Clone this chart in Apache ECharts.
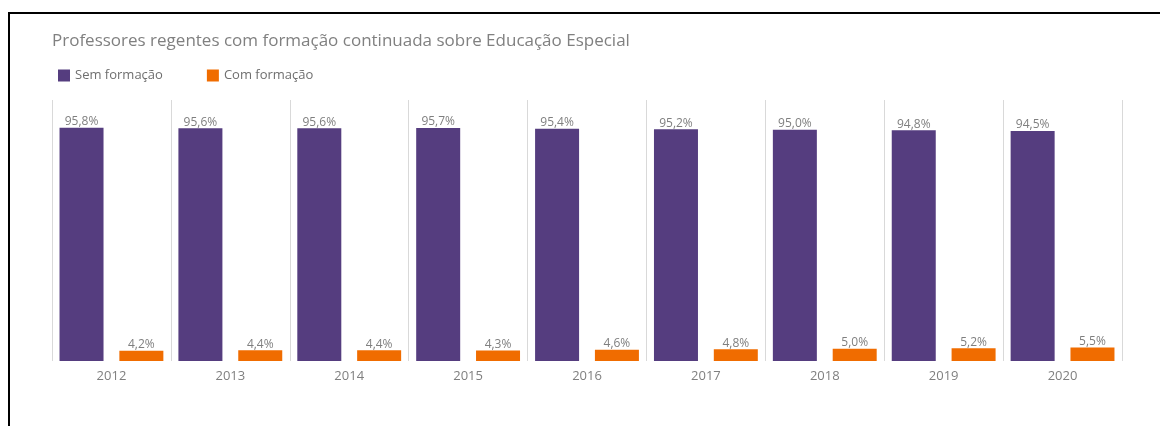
<!DOCTYPE html>
<html>
<head>
<meta charset="utf-8">
<script src="https://cdn.jsdelivr.net/npm/echarts@6/dist/echarts.min.js"></script>
<style>
html,body{margin:0;padding:0;background:#fff;}
#chart{width:1160px;height:426px;}
</style>
</head>
<body>
<div id="chart"></div>
<script>
const titleText = 'Professores regentes com formação continuada sobre Educação Especial';
const categories = ['2012','2013','2014','2015','2016','2017','2018','2019','2020'];
const seriesNames = ['Sem formação','Com formação'];
const semFormacao = [95.8, 95.6, 95.6, 95.7, 95.4, 95.2, 95.0, 94.8, 94.5];
const comFormacao = [4.2, 4.4, 4.4, 4.3, 4.6, 4.8, 5.0, 5.2, 5.5];

const font = '"Open Sans", "Noto Sans", sans-serif';
const gray = '#7f7f7f';
const fmt = p => p.value.toFixed(1).replace('.', ',') + '%';

const chart = echarts.init(document.getElementById('chart'));
chart.setOption({
  animation: false,
  backgroundColor: '#fff',
  title: {
    text: titleText,
    left: 47, top: 28,
    textStyle: {fontFamily: font, fontSize: 17, fontWeight: 'normal', color: '#808080'}
  },
  legend: {
    left: 53, top: 64,
    itemWidth: 12, itemHeight: 12, itemGap: 44,
    icon: 'rect',
    textStyle: {fontFamily: font, fontSize: 13, color: '#6f6f6f'},
    data: seriesNames
  },
  graphic: [
    {type: 'rect', shape: {x: 8, y: 12, width: 1152, height: 2}, style: {fill: '#000'}},
    {type: 'rect', shape: {x: 8, y: 12, width: 2, height: 414}, style: {fill: '#000'}}
  ],
  grid: {left: 52, right: 38, top: 100, bottom: 65},
  xAxis: {
    type: 'category',
    data: categories,
    axisLine: {show: false},
    axisTick: {show: false},
    splitLine: {show: true, lineStyle: {color: '#d9d9d9', width: 1}},
    axisLabel: {fontFamily: font, fontSize: 13, color: gray, margin: 9}
  },
  yAxis: {
    type: 'value', min: 0, max: 107.2,
    show: false, splitLine: {show: false}
  },
  series: [
    {
      name: seriesNames[0], type: 'bar', data: semFormacao,
      itemStyle: {color: '#553d7f'},
      barWidth: 44, barGap: '36%',
      label: {show: true, position: 'top', distance: 0, formatter: fmt, fontFamily: font, fontSize: 12, color: gray}
    },
    {
      name: seriesNames[1], type: 'bar', data: comFormacao,
      itemStyle: {color: '#f06c00'},
      barWidth: 44, barGap: '36%',
      label: {show: true, position: 'top', distance: 0, formatter: fmt, fontFamily: font, fontSize: 12, color: gray}
    }
  ]
});
</script>
</body>
</html>
